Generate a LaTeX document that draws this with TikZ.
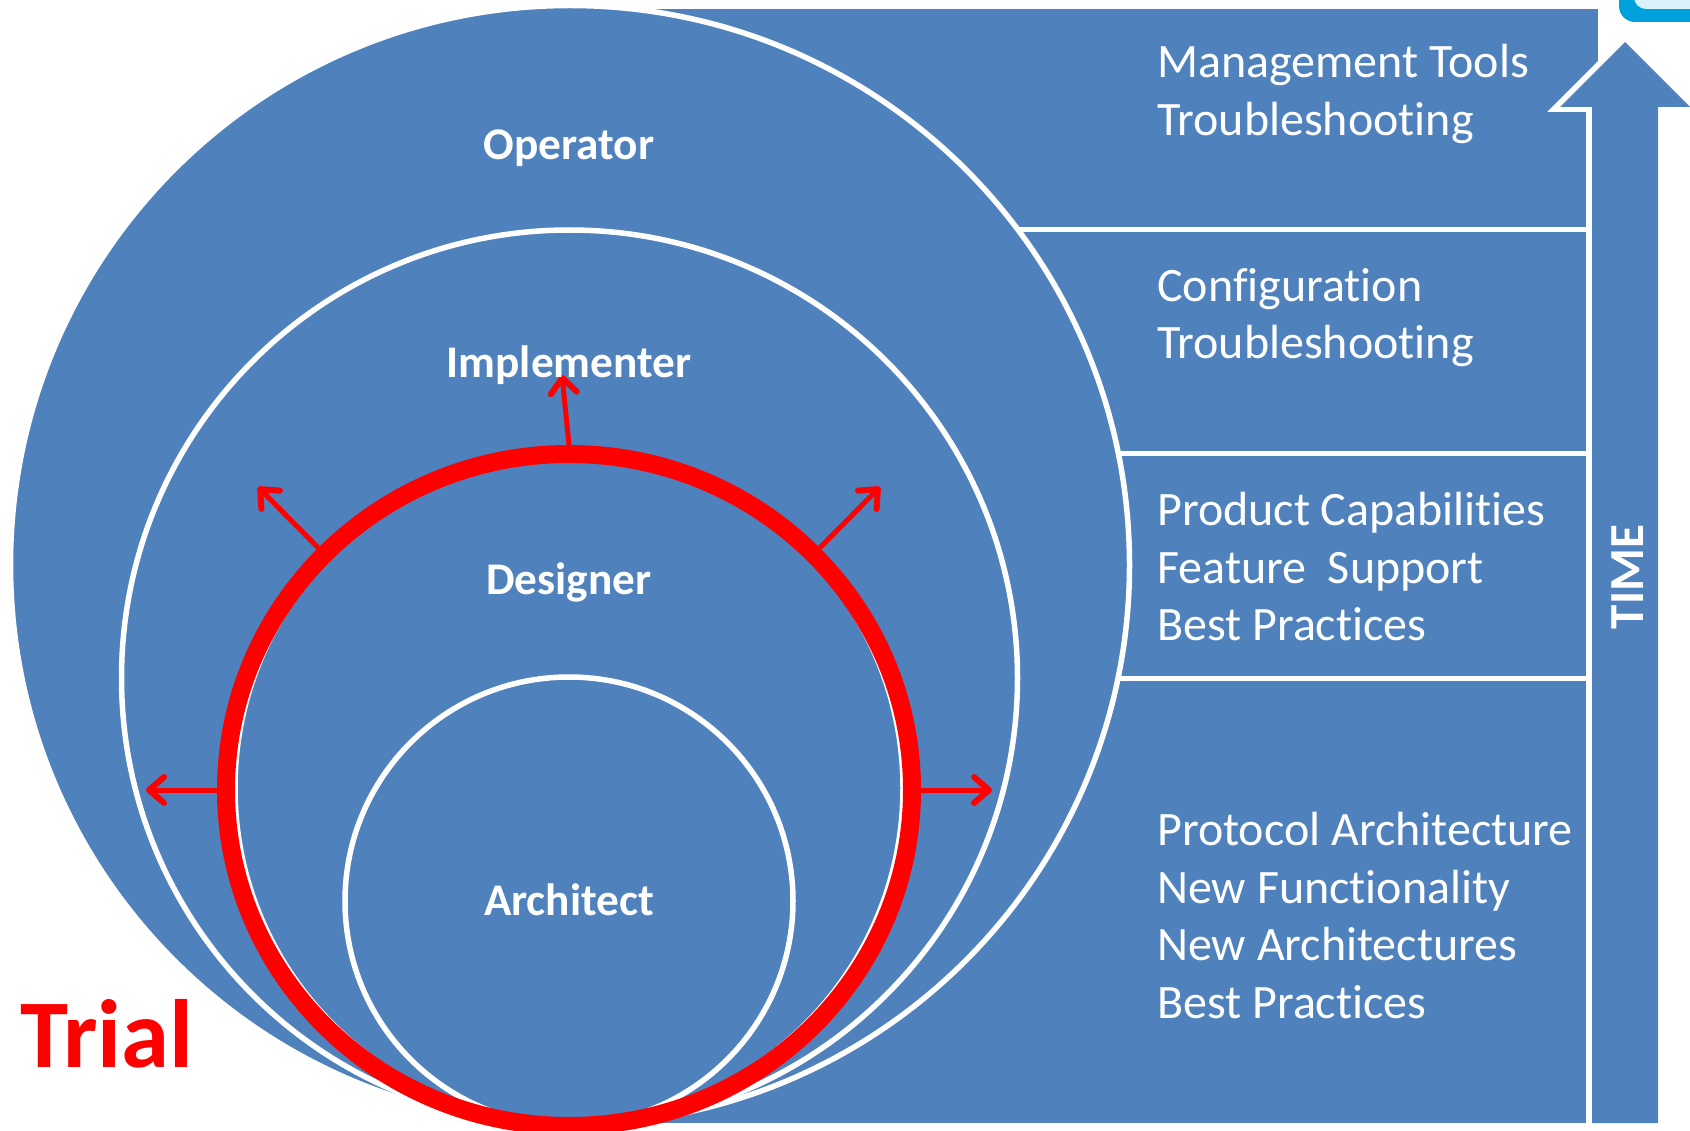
\documentclass[tikz,border=0pt]{standalone}
\usepackage{fontspec}
\setmainfont[Ligatures=NoCommon]{Carlito}
\usetikzlibrary{arrows.meta,shapes.geometric}
\definecolor{pblue}{RGB}{79,129,189}
\definecolor{pred}{RGB}{255,0,0}
\definecolor{logob}{RGB}{0,160,220}
\tikzset{
  disc/.style={circle,draw=white,line width=5.5pt,fill=pblue,inner sep=0pt},
  rolelabel/.style={text=white,font=\fontsize{45.3}{54}\selectfont\bfseries,inner sep=0pt},
  toplabel/.style={text=white,font=\fontsize{48}{57.5}\selectfont,align=left,anchor=north west,inner sep=0pt},
  divider/.style={draw=white,line width=5pt},
  growarrow/.style={draw=pred,line width=5pt,-{Straight Barb[length=15pt,width=26pt,line width=6pt,round]}},
}
\begin{document}
\begin{tikzpicture}[x=1pt,y=-1pt]
\useasboundingbox (0,0) rectangle (1690,1131);
% background panel
\fill[pblue] (570,9) rectangle (1598,1123);
% white outline of the arrow, over the panel
\fill[white] (1586,1131) -- (1586,112) -- (1547,112) -- (1625,34) -- (1625,42) -- (1592,107) -- (1592,1131) -- cycle;
\fill[white] (1598,0) rectangle (1690,34);
% logo fragment
\fill[logob,rounded corners=16pt] (1619,-30) rectangle (1720,22);
\fill[white!85!cyan,rounded corners=12pt] (1634,-30) rectangle (1720,9);
% arrow
\fill[pblue] (1625,42) -- (1690,107) -- (1658,107) -- (1658,1123) -- (1592,1123) -- (1592,107) -- (1560,107) -- cycle;
% dividers
\coordinate (d1a) at (1000,230); \coordinate (d1b) at (1588,230);
\coordinate (d2a) at (1100,454); \coordinate (d2b) at (1588,454);
\coordinate (d3a) at (1100,678); \coordinate (d3b) at (1588,678);
\draw[divider] (d1a) -- (d1b);
\draw[divider] (d2a) -- (d2b);
\draw[divider] (d3a) -- (d3b);
% circles
\node[disc,minimum size=1119pt] (operator) at (570,565) {};
\node[disc,minimum size=896pt] (implementer) at (569.5,678) {};
\node[disc,minimum size=668pt] (designer) at (569,788) {};
\node[disc,minimum size=448pt] (architect) at (569,901) {};
% red ring
\node[ellipse,draw=pred,line width=18pt,minimum width=686pt,minimum height=672pt,inner sep=0pt] (ring) at (569,790) {};
% red arrows
\coordinate (ga) at (562,375); \coordinate (gb) at (258,487); \coordinate (gc) at (880,487);
\coordinate (gd) at (146,790); \coordinate (ge) at (992,790);
\draw[growarrow] (ring.north) -- (ga);
\draw[growarrow] (ring.136) -- (gb);
\draw[growarrow] (ring.44) -- (gc);
\draw[growarrow] (ring.west) -- (gd);
\draw[growarrow] (ring.east) -- (ge);
% labels
\node[rolelabel] (l1) at (569,148) {Operator};
\node[rolelabel] (l2) at (569,365) {Implementer};
\node[rolelabel] (l3) at (569,582) {Designer};
\node[rolelabel] (l4) at (569,900) {Architect};
\node[toplabel] (t1) at (1157,44) {Management Tools\\Troubleshooting};
\node[toplabel] (t2) at (1157,268) {Configuration\\Troubleshooting};
\node[toplabel] (t3) at (1157,492) {Product Capabilities\\Feature~ Support\\Best Practices};
\node[toplabel] (t4) at (1157,812) {Protocol Architecture\\New Functionality\\New Architectures\\Best Practices};
\node[rolelabel,rotate=90,font=\fontsize{49}{54}\selectfont\bfseries] (time) at (1628,577) {TIME};
\node[text=pred,font=\fontsize{97}{110}\selectfont\bfseries,inner sep=0pt] (trial) at (107,1034) {Trial};
\end{tikzpicture}
\end{document}
